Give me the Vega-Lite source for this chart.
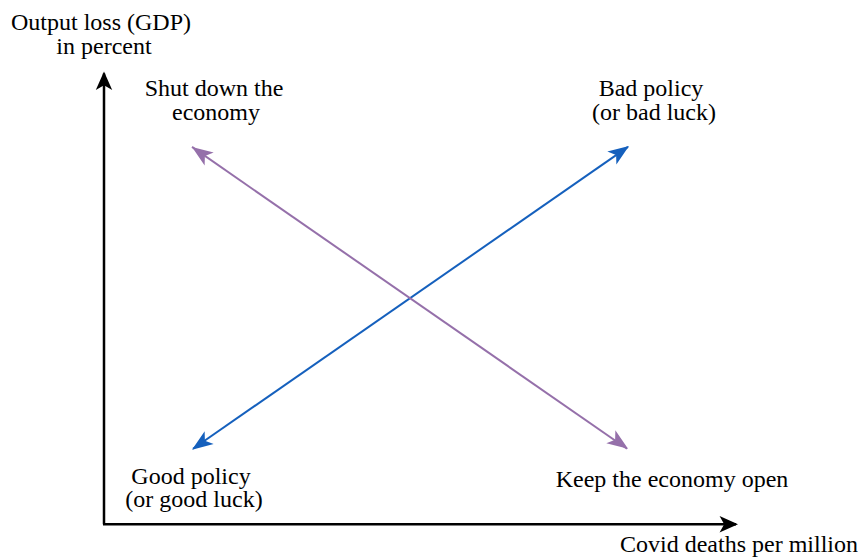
{
  "$schema": "https://vega.github.io/schema/vega-lite/v6.json",
  "width": 860,
  "height": 557,
  "autosize": {"type": "fit", "contains": "padding"},
  "padding": 0,
  "background": "white",
  "config": {"view": {"stroke": null}},
  "datasets": {
    "axes": [
      {"x": 104, "y": 528, "x2": 104, "y2": 74},
      {"x": 103, "y": 528, "x2": 736, "y2": 528}
    ],
    "axisHeads": [
      {"x": 104, "y": 72, "angle": 0},
      {"x": 738, "y": 528, "angle": 90}
    ],
    "arrows": [
      {"series": "blue", "x": 193, "y": 452, "x2": 628, "y2": 148},
      {"series": "purple", "x": 192, "y": 148, "x2": 627, "y2": 452}
    ],
    "arrowHeads": [
      {"series": "blue", "x": 629, "y": 147, "angle": 54.9},
      {"series": "blue", "x": 192, "y": 453, "angle": 234.9},
      {"series": "purple", "x": 192, "y": 148, "angle": 305.1},
      {"series": "purple", "x": 628, "y": 452, "angle": 125.1}
    ],
    "labels": [
      {"label": "Output loss (GDP)", "x": 101, "y": 30},
      {"label": "in percent", "x": 104, "y": 54},
      {"label": "Shut down the", "x": 214, "y": 97},
      {"label": "economy", "x": 216, "y": 121},
      {"label": "Bad policy", "x": 651, "y": 97},
      {"label": "(or bad luck)", "x": 654, "y": 121},
      {"label": "Good policy", "x": 191, "y": 488},
      {"label": "(or good luck)", "x": 194, "y": 511},
      {"label": "Keep the economy open", "x": 672, "y": 491},
      {"label": "Covid deaths per million", "x": 739, "y": 556}
    ]
  },
  "layer": [
    {
      "data": {"name": "axes"},
      "mark": {"type": "rule", "color": "black", "strokeWidth": 2.5},
      "encoding": {
        "x": {"field": "x", "type": "quantitative", "scale": {"domain": [0, 860], "nice": false, "zero": false}, "axis": null},
        "y": {"field": "y", "type": "quantitative", "scale": {"domain": [0, 557], "nice": false, "zero": false, "reverse": true}, "axis": null},
        "x2": {"field": "x2"},
        "y2": {"field": "y2"}
      }
    },
    {
      "data": {"name": "axisHeads"},
      "mark": {"type": "point", "shape": "M0,0L0.8,1.8L0,1.35L-0.8,1.8Z", "filled": true, "color": "black", "size": 420, "opacity": 1},
      "encoding": {
        "x": {"field": "x", "type": "quantitative"},
        "y": {"field": "y", "type": "quantitative"},
        "angle": {"field": "angle", "type": "quantitative", "scale": null}
      }
    },
    {
      "data": {"name": "arrows"},
      "mark": {"type": "rule", "strokeWidth": 2},
      "encoding": {
        "x": {"field": "x", "type": "quantitative"},
        "y": {"field": "y", "type": "quantitative"},
        "x2": {"field": "x2"},
        "y2": {"field": "y2"},
        "color": {"field": "series", "type": "nominal", "scale": {"domain": ["blue", "purple"], "range": ["#1560bd", "#9570aa"]}, "legend": null}
      }
    },
    {
      "data": {"name": "arrowHeads"},
      "mark": {"type": "point", "shape": "M0,0L0.75,2L0,1.5L-0.75,2Z", "filled": true, "size": 440, "opacity": 1},
      "encoding": {
        "x": {"field": "x", "type": "quantitative"},
        "y": {"field": "y", "type": "quantitative"},
        "angle": {"field": "angle", "type": "quantitative", "scale": null},
        "color": {"field": "series", "type": "nominal", "legend": null}
      }
    },
    {
      "data": {"name": "labels"},
      "mark": {"type": "text", "font": "Liberation Serif", "fontSize": 24, "align": "center", "baseline": "alphabetic", "color": "black"},
      "encoding": {
        "x": {"field": "x", "type": "quantitative"},
        "y": {"field": "y", "type": "quantitative"},
        "text": {"field": "label", "type": "nominal"}
      }
    }
  ]
}
